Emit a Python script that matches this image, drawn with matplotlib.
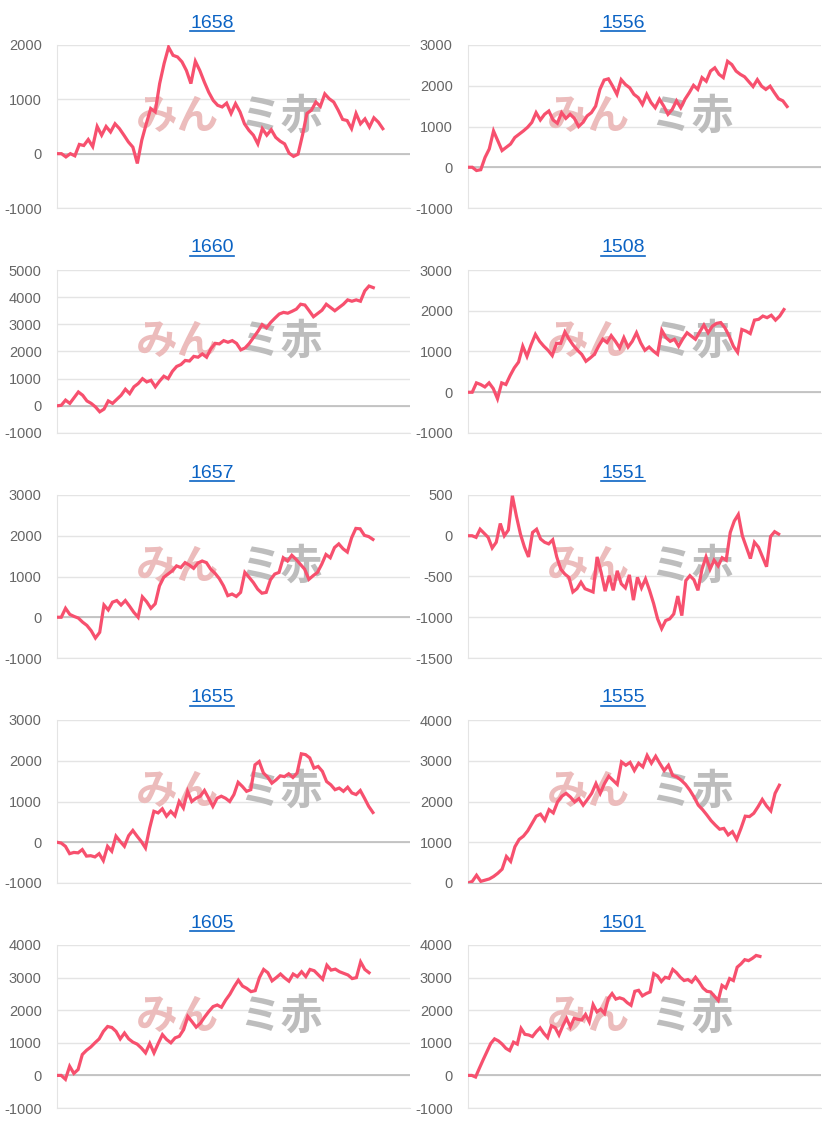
import matplotlib
matplotlib.use("Agg")
import matplotlib.pyplot as plt
from matplotlib.lines import Line2D

plt.rcParams["axes.unicode_minus"] = False

# store numbers (panel titles), left column then right column, row by row
titles = ["1658", "1556", "1660", "1508", "1657", "1551", "1655", "1555", "1605", "1501"]

# cumulative values
s1658 = [0, 0, -60, 0, -40, 170, 150, 260, 130, 500, 340, 500, 400, 550, 460, 340, 215, 120,
         -180, 250, 550, 830, 770, 1290, 1660, 1960, 1810, 1780, 1690, 1530, 1290, 1700, 1530,
         1320, 1130, 980, 890, 860, 930, 740, 920, 770, 550, 430, 340, 180, 460, 340, 440, 300,
         230, 180, 10, -50, -10, 340, 740, 800, 950, 870, 1100, 1010, 950, 800, 630, 610, 460,
         740, 550, 640, 490, 660, 580, 460]
s1556 = [0, 0, -80, -60, 240, 450, 890, 650, 410, 490, 570, 730, 810, 890, 980, 1100, 1340,
         1160, 1300, 1380, 1160, 1080, 1340, 1200, 1300, 1200, 1000, 1100, 1260, 1340, 1500,
         1910, 2140, 2170, 1990, 1790, 2150, 2030, 1950, 1790, 1710, 1540, 1790, 1590, 1460,
         1670, 1500, 1300, 1420, 1630, 1460, 1670, 1830, 2010, 1910, 2200, 2110, 2360, 2440,
         2280, 2200, 2600, 2520, 2360, 2280, 2220, 2100, 1980, 2150, 1990, 1910, 1990, 1830,
         1680, 1630, 1490]
s1660 = [0, 20, 210, 90, 300, 510, 390, 180, 90, -40, -220, -120, 180, 90, 240, 390, 610, 450,
         700, 820, 1000, 880, 940, 700, 910, 1090, 1000, 1270, 1450, 1520, 1670, 1650, 1820,
         1790, 1910, 1790, 2100, 2300, 2280, 2400, 2340, 2400, 2300, 2060, 2130, 2300, 2520,
         2740, 2990, 2870, 3070, 3230, 3380, 3440, 3410, 3480, 3560, 3740, 3710, 3500, 3280,
         3400, 3520, 3740, 3620, 3500, 3620, 3740, 3900, 3850, 3900, 3850, 4230, 4410, 4350]
s1508 = [0, 0, 230, 190, 130, 230, 90, -160, 230, 190, 410, 600, 740, 1130, 880, 1170, 1420,
         1250, 1130, 1030, 900, 1200, 1200, 1480, 1300, 1150, 1030, 930, 760, 840, 930, 1130,
         1300, 1220, 1390, 1250, 1090, 1340, 1110, 1250, 1460, 1210, 1030, 1110, 1010, 930,
         1520, 1340, 1250, 1300, 1130, 1310, 1460, 1380, 1300, 1480, 1650, 1460, 1620, 1690,
         1710, 1580, 1380, 1130, 980, 1540, 1500, 1440, 1770, 1790, 1870, 1830, 1890, 1770,
         1870, 2030]
s1657 = [0, 0, 220, 70, 20, -20, -120, -200, -330, -510, -370, 300, 180, 370, 410, 300, 410,
         270, 120, 0, 500, 380, 220, 330, 770, 980, 1060, 1140, 1260, 1220, 1340, 1280, 1200,
         1330, 1380, 1340, 1180, 1080, 950, 770, 530, 570, 510, 610, 1100, 980, 850, 690, 590,
         610, 920, 1060, 1100, 1460, 1380, 1520, 1420, 1300, 1180, 930, 1020, 1100, 1300, 1540,
         1460, 1710, 1800, 1680, 1600, 1950, 2180, 2170, 2010, 1980, 1910]
s1551 = [0, 0, -20, 80, 30, -20, -150, -80, 150, 0, 70, 490, 240, 20, -140, -260, 40, 80, -40,
         -80, -100, -50, -260, -410, -470, -510, -690, -650, -570, -650, -670, -690, -260, -450,
         -680, -490, -670, -430, -590, -640, -480, -790, -510, -640, -530, -670, -830, -1020,
         -1140, -1040, -1020, -960, -740, -980, -550, -490, -540, -670, -410, -260, -410, -300,
         -370, -270, -300, 40, 180, 260, 0, -140, -280, -80, -140, -260, -380, -10, 50, 20]
s1655 = [0, -20, -100, -280, -250, -260, -180, -340, -330, -360, -280, -450, -100, -220, 150,
         20, -100, 160, 290, 150, 20, -140, 350, 760, 720, 820, 640, 760, 650, 1000, 840, 1250,
         1000, 1080, 1130, 1270, 1080, 880, 1080, 1130, 1080, 1000, 1170, 1470, 1370, 1250,
         1290, 1900, 1980, 1700, 1600, 1450, 1530, 1630, 1610, 1680, 1590, 1700, 2170, 2150,
         2070, 1820, 1860, 1740, 1490, 1410, 1290, 1330, 1250, 1350, 1210, 1170, 1270, 1080,
         880, 730]
s1555 = [0, 40, 190, 40, 70, 100, 160, 240, 340, 650, 530, 890, 1070, 1150, 1280, 1460, 1640,
         1690, 1540, 1800, 1720, 1990, 2130, 2200, 2110, 1990, 2070, 1910, 2050, 2200, 2440,
         2200, 2440, 2620, 2520, 2420, 2970, 2890, 2960, 2760, 2940, 2850, 3130, 2940, 3110,
         2930, 2760, 2890, 2640, 2600, 2520, 2420, 2280, 2110, 1910, 1800, 1670, 1530, 1420,
         1320, 1340, 1180, 1260, 1070, 1340, 1640, 1630, 1710, 1870, 2050, 1890, 1770, 2200,
         2400]
s1605 = [0, 0, -120, 280, 60, 180, 640, 770, 870, 1000, 1120, 1350, 1500, 1470, 1350, 1120,
         1300, 1120, 1020, 960, 840, 690, 980, 690, 980, 1250, 1100, 1000, 1150, 1200, 1400,
         1810, 1650, 1480, 1600, 1790, 1960, 2110, 2160, 2090, 2310, 2490, 2720, 2920, 2740,
         2670, 2570, 2600, 3000, 3250, 3150, 2900, 3000, 3110, 2990, 2890, 3110, 3030, 3180,
         3030, 3250, 3210, 3080, 2950, 3380, 3230, 3260, 3180, 3130, 3080, 2970, 3000, 3480,
         3250, 3150]
s1501 = [0, 0, -50, 220, 480, 730, 980, 1120, 1060, 960, 830, 760, 1020, 960, 1440, 1260, 1240,
         1190, 1340, 1460, 1290, 1160, 1520, 1460, 1240, 1520, 1750, 1490, 1750, 1720, 1700,
         1870, 1640, 2170, 1950, 2030, 1900, 2360, 2510, 2340, 2380, 2340, 2230, 2150, 2580,
         2610, 2440, 2510, 2560, 3120, 3050, 2880, 3010, 2980, 3250, 3150, 3010, 2910, 2940,
         2860, 3010, 2860, 2680, 2580, 2560, 2430, 2300, 2760, 2680, 2970, 2910, 3320, 3420,
         3550, 3520, 3590, 3680, 3650]

series = [s1658, s1556, s1660, s1508, s1657, s1551, s1655, s1555, s1605, s1501]
y_ranges = [(-1000, 2000), (-1000, 3000), (-1000, 5000), (-1000, 3000), (-1000, 3000),
            (-1500, 500), (-1000, 3000), (0, 4000), (-1000, 4000), (-1000, 4000)]
y_steps = [1000, 1000, 1000, 1000, 1000, 500, 1000, 1000, 1000, 1000]
# how far along the x axis each line ends
end_frac = [0.923, 0.904, 0.896, 0.895, 0.895, 0.88, 0.895, 0.882, 0.884, 0.827]

W, H = 822, 1125
fig = plt.figure(figsize=(W / 100, H / 100), dpi=100)
fig.patch.set_facecolor("white")

line_color = "#f7506e"
title_color = "#0b63c4"
cjk = ["Noto Sans CJK JP", "DejaVu Sans"]

titles_drawn = []
for i, data in enumerate(series):
    col = i % 2
    row = i // 2
    left = 57 if col == 0 else 468
    right = 410 if col == 0 else 821
    top = 45 + 225 * row
    bottom = 208 + 225 * row
    ax = fig.add_axes([left / W, 1 - bottom / H, (right - left) / W, (bottom - top) / H])

    lo, hi = y_ranges[i]
    ax.set_ylim(lo, hi)
    ax.set_yticks(range(lo, hi + 1, y_steps[i]))
    ax.set_xlim(0, (len(data) - 1) / end_frac[i])
    ax.set_xticks([])

    ax.yaxis.grid(True, color="#e4e4e4", linewidth=1.0)
    ax.set_axisbelow(True)
    if lo < 0:
        ax.axhline(0, color="#bdbdbd", linewidth=1.2, zorder=1)
    for side in ["top", "right"]:
        ax.spines[side].set_visible(False)
    ax.spines["bottom"].set_color("#bdbdbd" if lo == 0 else "#e4e4e4")
    ax.spines["left"].set_color("#e4e4e4")
    ax.tick_params(axis="y", length=0, pad=11, labelsize=10.5, labelcolor="#666666")
    for lab in ax.get_yticklabels():
        lab.set_fontfamily("Liberation Sans")

    # watermark
    ax.text(0.34, 0.56, "みん", transform=ax.transAxes, ha="center", va="center",
            fontsize=30, fontweight="bold", color="#ecbcbc", family=cjk, zorder=2)
    ax.text(0.635, 0.56, "ミ赤", transform=ax.transAxes, ha="center", va="center",
            fontsize=30, fontweight="bold", color="#bdbdbd", family=cjk, zorder=2)

    ax.plot(range(len(data)), data, color=line_color, linewidth=2.3, zorder=3,
            solid_joinstyle="miter")

    tx = 212 if col == 0 else 623
    ty = 23 + 225 * row
    t = fig.text(tx / W, 1 - ty / H, titles[i], ha="center", va="center",
                 fontsize=14, color=title_color, family="Liberation Sans")
    titles_drawn.append(t)

# underline the titles like links
fig.canvas.draw()
renderer = fig.canvas.get_renderer()
for t in titles_drawn:
    bb = t.get_window_extent(renderer)
    y = bb.y0 + 1
    fig.add_artist(Line2D([bb.x0 / W, bb.x1 / W], [y / H, y / H], color=title_color,
                          linewidth=1.2, transform=fig.transFigure))

fig.savefig("out.png", dpi=100, facecolor="white")
